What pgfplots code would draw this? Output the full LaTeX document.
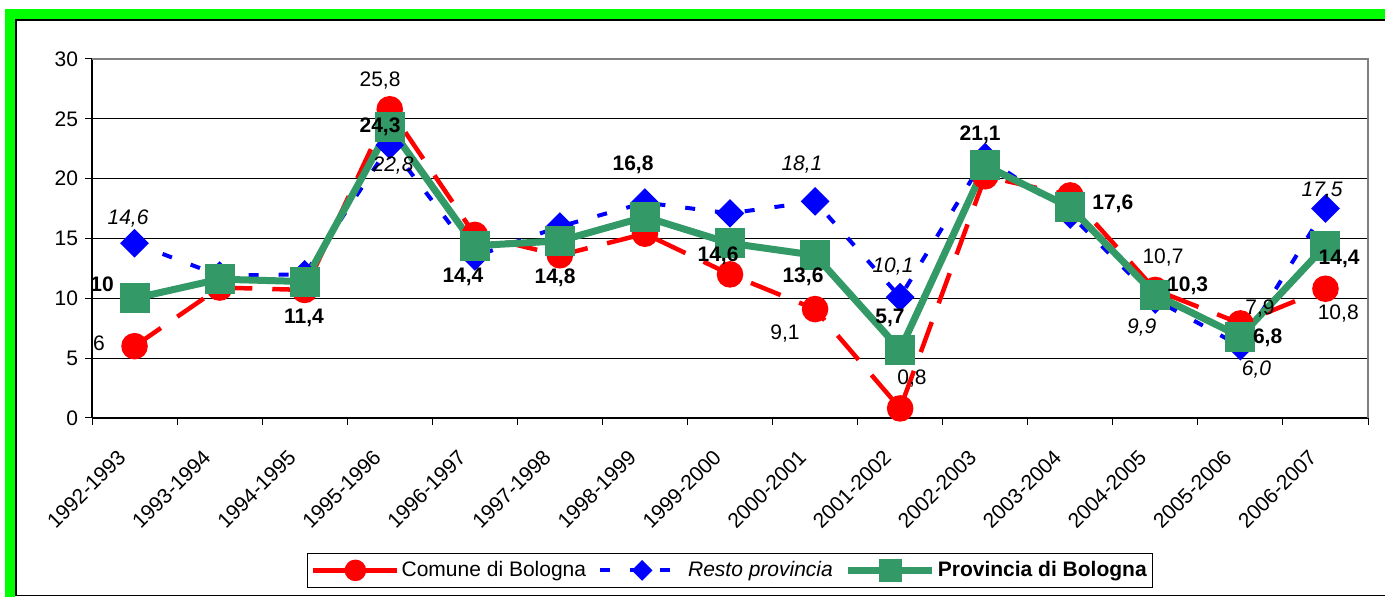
\documentclass[border=0pt]{standalone}
\usepackage{fontspec}
\setmainfont{Liberation Sans}
\usepackage{pgfplots}
\pgfplotsset{compat=1.18}
\definecolor{cbRed}{HTML}{FF0000}
\definecolor{cbBlue}{HTML}{0000FF}
\definecolor{cbGreen}{HTML}{339966}
\definecolor{frameGreen}{HTML}{00FF00}
\def\lbl{\fontsize{10.5}{12}\selectfont}

\begin{document}
\begin{tikzpicture}
\useasboundingbox (0,0) rectangle (692.5pt,298.5pt);
% green frame of the sheet
\fill[frameGreen] (2.5pt,0) rectangle (7.5pt,294pt);
\fill[frameGreen] (2.5pt,289pt) rectangle (692.5pt,294pt);
\draw[black,line width=0.8pt] (692.5pt,288.6pt) -- (7.9pt,288.6pt) -- (7.9pt,0.75pt) -- (692.5pt,0.75pt);

\begin{axis}[
  at={(46pt,89.5pt)}, anchor=south west,
  scale only axis, width=638pt, height=179.5pt,
  xmin=0.5, xmax=15.5, ymin=0, ymax=30,
  xtick={0.5,1.5,...,15.5},
  x tick label as interval,
  xticklabels={1992-1993,1993-1994,1994-1995,1995-1996,1996-1997,1997-1998,1998-1999,1999-2000,2000-2001,2001-2002,2002-2003,2003-2004,2004-2005,2005-2006,2006-2007},
  ytick={0,5,...,30},
  axis x line*=bottom, axis y line*=left,
  axis line style={-, black, line width=1pt},
  tick align=outside, major tick length=3.5pt,
  tick style={black, line width=0.5pt},
  ymajorgrids, grid style={black, line width=0.5pt},
  tick label style={font=\lbl},
  /pgf/number format/assume math mode=true,
  xticklabel style={xshift=-9pt, yshift=-11.5pt, rotate=45, anchor=north east, inner sep=0pt},
  clip=false,
  legend columns=3,
  legend cell align=left,
  legend style={at={(0.5,-0.4735)}, anchor=south, draw=black, line width=0.5pt,
    font=\lbl, inner xsep=2pt, inner ysep=2pt, nodes={inner xsep=1pt},
    /tikz/every odd column/.style={column sep=0pt},
    /tikz/every even column/.style={column sep=5pt}},
  legend image code/.code={\draw[mark repeat=2,mark phase=2]
    plot coordinates {(0pt,0pt) (21pt,0pt) (42pt,0pt)};},
]
\draw[gray, line width=1pt] (rel axis cs:0,1) -- (rel axis cs:1,1) -- (rel axis cs:1,0);

\addplot[cbRed, line width=2.25pt, dash pattern=on 16pt off 10pt,
  mark=*, mark size=5.5pt, mark options={solid, draw=none, fill=cbRed},
  legend image post style={mark size=4.25pt}]
  coordinates {(1,6.0) (2,10.9) (3,10.7) (4,25.8) (5,15.3) (6,13.6) (7,15.4) (8,12.0)
               (9,9.1) (10,0.8) (11,20.2) (12,18.6) (13,10.7) (14,7.9) (15,10.8)};
\addlegendentry{Comune di Bologna}

\addplot[cbBlue, line width=2pt, dash pattern=on 5pt off 10pt,
  mark=square*, mark size=4.07pt, mark options={solid, rotate=45, draw=none, fill=cbBlue},
  legend image post style={mark size=2.7pt}]
  coordinates {(1,14.6) (2,11.9) (3,12.0) (4,22.8) (5,13.5) (6,16.0) (7,18.0) (8,17.1)
               (9,18.1) (10,10.1) (11,21.8) (12,17.0) (13,9.9) (14,6.0) (15,17.5)};
\addlegendentry{\textit{Resto provincia}}

\addplot[cbGreen, line width=3.5pt,
  mark=square*, mark size=5.75pt, mark options={solid, draw=none, fill=cbGreen},
  legend image post style={mark size=4pt}]
  coordinates {(1,10.0) (2,11.6) (3,11.4) (4,24.3) (5,14.4) (6,14.8) (7,16.8) (8,14.6)
               (9,13.6) (10,5.7) (11,21.1) (12,17.6) (13,10.3) (14,6.8) (15,14.4)};
\addlegendentry{\textbf{Provincia di Bologna}}

% data labels, placed where the reference shows them
\addplot[forget plot, only marks, mark=*, mark size=0pt, mark options={draw=none, fill=none},
  point meta=explicit symbolic, nodes near coords,
  every node near coord/.append style={anchor=center, font=\lbl, text=black, inner sep=0pt}]
  coordinates {
  (0.924,16.7) [\textit{14,6}]
  (0.618,11.2) [\textbf{10}]
  (0.583,6.27) [6]
  (3.886,28.16) [25,8]
  (3.886,24.3) [\textbf{24,3}]
  (4.039,21.06) [\textit{22,8}]
  (2.992,8.36) [\textbf{11,4}]
  (4.861,11.78) [\textbf{14,4}]
  (5.943,11.7) [\textbf{14,8}]
  (6.860,21.14) [\textbf{16,8}]
  (7.859,13.54) [\textbf{14,6}]
  (8.846,21.22) [\textit{18,1}]
  (8.858,11.78) [\textbf{13,6}]
  (8.646,7.1) [9,1]
  (9.916,12.62) [\textit{10,1}]
  (9.88,8.36) [\textbf{5,7}]
  (10.14,3.26) [0,8]
  (10.94,23.65) [\textbf{21,1}]
  (12.50,17.88) [\textbf{17,6}]
  (13.09,13.45) [10,7]
  (13.38,11.03) [\textbf{10,3}]
  (12.84,7.52) [\textit{9,9}]
  (14.23,9.19) [7,9]
  (14.32,6.68) [\textbf{6,8}]
  (14.19,4.01) [\textit{6,0}]
  (14.96,18.97) [\textit{17,5}]
  (15.16,13.29) [\textbf{14,4}]
  (15.15,8.77) [10,8]
  };
\end{axis}
\end{tikzpicture}
\end{document}
